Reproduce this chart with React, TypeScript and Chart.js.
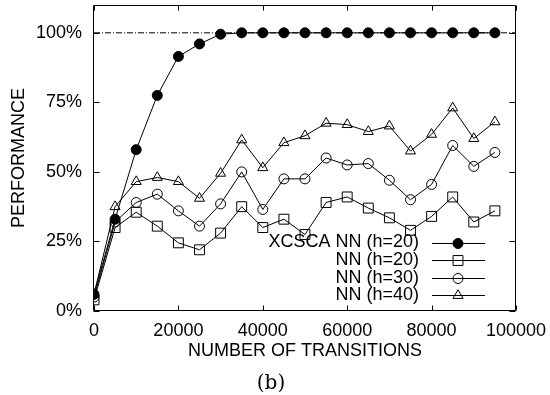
import React, { useEffect, useRef } from 'react';
import { Chart, registerables } from 'chart.js';

Chart.register(...registerables);

// ---- data ----
const transitions = [0, 5000, 10000, 15000, 20000, 25000, 30000, 35000, 40000, 45000, 50000, 55000, 60000, 65000, 70000, 75000, 80000, 85000, 90000, 95000];
const xcscaNN20 = [6, 33, 58, 77.5, 91.5, 96, 99.5, 100, 100, 100, 100, 100, 100, 100, 100, 100, 100, 100, 100, 100];
const nnH20 = [4, 30, 35.5, 30.5, 24.5, 22, 28, 37.5, 30, 33, 27.5, 39, 41, 37, 33.5, 29, 34, 41, 32, 36];
const nnH30 = [5, 32, 39, 42, 36, 30.5, 38.5, 50, 36.5, 47.5, 47.5, 55, 52.5, 53, 47, 40, 45.5, 59.5, 52, 57];
const nnH40 = [6, 37.5, 46.5, 48, 46.5, 40.5, 49.5, 61.5, 51.5, 60.5, 63, 67.5, 67, 64.5, 66.5, 57.5, 63.5, 73, 62, 68];
const seriesLabels = ['XCSCA NN (h=20)', 'NN (h=20)', 'NN (h=30)', 'NN (h=40)'];
const optimumLevel = [100, 100];
const optimumX = [0, 100000];
const yTickValues = [0, 25, 50, 75, 100];
const xTickValues = [0, 20000, 40000, 60000, 80000, 100000];
const xTitle = 'NUMBER OF TRANSITIONS';
const yTitle = 'PERFORMANCE';
const caption = '(b)';

const FONT = '"Liberation Sans", Arial, Helvetica, sans-serif';
const FONT_SIZE = 18;

function toPoints(xs: number[], ys: number[]) {
  return ys.map((y, i) => ({ x: xs[i], y }));
}

function drawMarker(ctx: CanvasRenderingContext2D, style: string, r: number, x: number, y: number, filled: boolean) {
  ctx.beginPath();
  if (style === 'rect') {
    const s = Math.SQRT1_2 * r;
    ctx.rect(x - s, y - s, 2 * s, 2 * s);
  } else if (style === 'triangle') {
    ctx.moveTo(x, y - r);
    ctx.lineTo(x + Math.sin((2 * Math.PI) / 3) * r, y + r / 2);
    ctx.lineTo(x - Math.sin((2 * Math.PI) / 3) * r, y + r / 2);
    ctx.closePath();
  } else {
    ctx.arc(x, y, r, 0, Math.PI * 2);
  }
  if (filled) ctx.fill();
  ctx.stroke();
}

const framePlugin = {
  id: 'gnuFrame',
  beforeDatasetsDraw(chart: any) {
    const { ctx, chartArea } = chart;
    const { left, right, top, bottom } = chartArea;
    const xs = chart.scales.x;
    const ys = chart.scales.y;
    ctx.save();
    ctx.strokeStyle = '#000';
    ctx.lineWidth = 1;
    ctx.beginPath();
    const L = Math.round(left) - 0.5;
    const R = Math.round(right) - 0.5;
    const T = Math.round(top) + 0.5;
    const B = Math.round(bottom) - 0.5;
    ctx.rect(L, T, R - L, B - T);
    for (const v of yTickValues) {
      const py = Math.round(ys.getPixelForValue(v)) + 0.5;
      ctx.moveTo(L, py);
      ctx.lineTo(L + 6, py);
      ctx.moveTo(R, py);
      ctx.lineTo(R - 6, py);
    }
    for (const v of xTickValues) {
      const px = Math.round(xs.getPixelForValue(v)) + 0.5;
      ctx.moveTo(px, B);
      ctx.lineTo(px, B - 5);
      ctx.moveTo(px, T);
      ctx.lineTo(px, T + 5);
    }
    ctx.stroke();
    ctx.restore();
  },
};

const legendPlugin = {
  id: 'gnuLegend',
  afterDraw(chart: any) {
    const { ctx, chartArea } = chart;
    const { right, bottom } = chartArea;
    ctx.save();
    ctx.font = `${FONT_SIZE}px ${FONT}`;
    ctx.textAlign = 'right';
    ctx.textBaseline = 'middle';
    ctx.strokeStyle = '#000';
    ctx.lineWidth = 1;
    const items = chart.data.datasets.filter((d: any) => !d.isReference);
    items.forEach((d: any, i: number) => {
      const y = bottom - 68.5 + i * 17.6;
      ctx.fillStyle = '#000';
      ctx.fillText(d.label, right - 97, y);
      const py = Math.round(y) + 0.5;
      ctx.beginPath();
      ctx.moveTo(right - 84, py);
      ctx.lineTo(right - 31, py);
      ctx.stroke();
      const filled = d.pointBackgroundColor === '#000';
      ctx.fillStyle = '#000';
      drawMarker(ctx, d.pointStyle, d.pointRadius, right - 58, py, filled);
    });
    ctx.restore();
  },
};

export default function App() {
  const canvasRef = useRef<HTMLCanvasElement | null>(null);

  useEffect(() => {
    if (!canvasRef.current) return;
    const common = {
      type: 'line' as const,
      borderColor: '#000',
      borderWidth: 1,
      pointBorderColor: '#000',
      pointBorderWidth: 1,
      tension: 0,
      fill: false,
    };
    const chart = new Chart(canvasRef.current, {
      type: 'line',
      data: {
        datasets: [
          { ...common, label: seriesLabels[0], data: toPoints(transitions, xcscaNN20), pointStyle: 'circle', pointRadius: 5, pointBackgroundColor: '#000' },
          { ...common, label: seriesLabels[1], data: toPoints(transitions, nnH20), pointStyle: 'rect', pointRadius: 7, pointBackgroundColor: 'rgba(0,0,0,0)' },
          { ...common, label: seriesLabels[2], data: toPoints(transitions, nnH30), pointStyle: 'circle', pointRadius: 5, pointBackgroundColor: 'rgba(0,0,0,0)' },
          { ...common, label: seriesLabels[3], data: toPoints(transitions, nnH40), pointStyle: 'triangle', pointRadius: 5.8, pointBackgroundColor: 'rgba(0,0,0,0)' },
          { ...common, label: '', isReference: true, data: toPoints(optimumX, optimumLevel), pointRadius: 0, borderDash: [6, 2, 1, 2] } as any,
        ],
      },
      options: {
        animation: false,
        responsive: false,
        events: [],
        layout: { autoPadding: false, padding: { left: 0, right: 34, top: 5, bottom: 28 } },
        plugins: {
          legend: { display: false },
          tooltip: { enabled: false },
          title: { display: false },
        },
        scales: {
          x: {
            type: 'linear',
            min: 0,
            max: 100000,
            afterBuildTicks: (s: any) => {
              s.ticks = xTickValues.map((v) => ({ value: v }));
            },
            afterFit: (s: any) => {
              s.height = 56;
              s.paddingLeft = 0;
              s.paddingRight = 0;
            },
            grid: { display: false, drawTicks: false },
            border: { display: false },
            ticks: {
              padding: 9,
              color: '#000',
              maxRotation: 0,
              autoSkip: false,
              font: { family: FONT, size: FONT_SIZE },
              callback: (v: any) => String(v),
            },
            title: {
              display: true,
              text: xTitle,
              color: '#000',
              font: { family: FONT, size: FONT_SIZE },
              padding: { top: 0, bottom: 5 },
            },
          },
          y: {
            type: 'linear',
            min: 0,
            max: 110,
            afterBuildTicks: (s: any) => {
              s.ticks = yTickValues.map((v) => ({ value: v }));
            },
            afterFit: (s: any) => {
              s.width = 94;
              s.paddingTop = 0;
              s.paddingBottom = 0;
            },
            grid: { display: false, drawTicks: false },
            border: { display: false },
            ticks: {
              padding: 12,
              color: '#000',
              font: { family: FONT, size: FONT_SIZE },
              callback: (v: any) => `${v}%`,
            },
            title: {
              display: true,
              text: yTitle,
              color: '#000',
              font: { family: FONT, size: FONT_SIZE },
              padding: { top: 8, bottom: 0 },
            },
          },
        },
      } as any,
      plugins: [framePlugin, legendPlugin],
    });
    return () => chart.destroy();
  }, []);

  return (
    <div style={{ position: 'absolute', left: 0, top: 0, width: 550, height: 395, background: '#fff' }}>
      <canvas ref={canvasRef} width={550} height={395} style={{ display: 'block' }} />
      <div
        style={{
          position: 'absolute',
          left: 271,
          top: 382,
          transform: 'translate(-50%, -50%)',
          fontFamily: '"DejaVu Serif", "Liberation Serif", serif',
          fontSize: 20,
          lineHeight: 1,
          color: '#000',
          whiteSpace: 'nowrap',
        }}
      >
        {caption}
      </div>
    </div>
  );
}
